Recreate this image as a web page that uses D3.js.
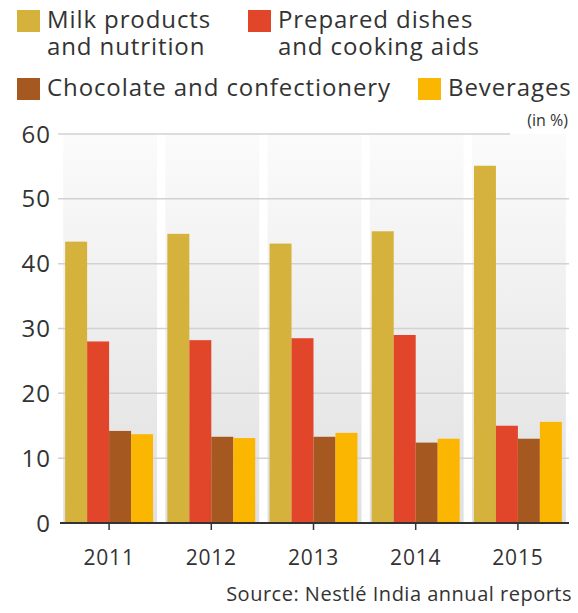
<!DOCTYPE html>
<html>
<head>
<meta charset="utf-8">
<script src="https://cdn.jsdelivr.net/npm/d3@7"></script>
<style>
  html, body { margin: 0; padding: 0; background: #fff; }
  svg { display: block; font-family: "Open Sans", sans-serif; }
</style>
</head>
<body>
<svg id="chart" width="578" height="613"></svg>
<script>
// data (share of sales, in %)
const years = ['2011', '2012', '2013', '2014', '2015'];
const seriesNames = ['Milk products and nutrition', 'Prepared dishes and cooking aids',
    'Chocolate and confectionery', 'Beverages'];
const milk = [43.4, 44.6, 43.1, 45.0, 55.1];
const prepared = [28.0, 28.2, 28.5, 29.0, 15.0];
const chocolate = [14.2, 13.3, 13.3, 12.4, 13.0];
const beverages = [13.7, 13.1, 13.9, 13.0, 15.6];
const yTicks = [0, 10, 20, 30, 40, 50, 60];

const colors = ['#d5b23b', '#e2462a', '#a5581f', '#fab600'];
const values = [milk, prepared, chocolate, beverages];

const svg = d3.select('#chart');

// background gradient for the year bands
const grad = svg.append('defs').append('linearGradient')
    .attr('id', 'bandGrad').attr('x1', 0).attr('y1', 0).attr('x2', 0).attr('y2', 1);
grad.append('stop').attr('offset', '0%').attr('stop-color', '#fbfbfb');
grad.append('stop').attr('offset', '100%').attr('stop-color', '#e0e0e0');

const x = d3.scaleBand().domain(years).range([58, 569]).paddingInner(0.14).paddingOuter(0.07);
const xInner = d3.scaleBand().domain(seriesNames).range([0, x.bandwidth()]);
const y = d3.scaleLinear().domain([0, 60]).range([523, 134]);

// year bands
svg.append('g').selectAll('rect')
    .data(years)
    .enter()
    .append('rect')
    .attr('x', d => x(d) - 2)
    .attr('y', y(60))
    .attr('width', x.bandwidth() + 6)
    .attr('height', y(0) - y(60))
    .attr('fill', 'url(#bandGrad)');

// gridlines
svg.append('g').selectAll('line')
    .data(yTicks.filter(t => t > 0))
    .enter()
    .append('line')
    .attr('x1', 58)
    .attr('x2', d => d === 60 ? 510 : 569)
    .attr('y1', d => y(d))
    .attr('y2', d => y(d))
    .attr('stroke', '#d2d2d2')
    .attr('stroke-width', 1.5);

// y labels
svg.append('g').selectAll('text')
    .data(yTicks)
    .enter()
    .append('text')
    .attr('x', 51)
    .attr('y', d => y(d))
    .attr('dy', '0.36em')
    .attr('text-anchor', 'end')
    .attr('font-size', '24px')
    .attr('letter-spacing', '1px')
    .attr('fill', '#333')
    .text(d => d);

// bars
const groups = svg.append('g').selectAll('g')
    .data(years)
    .enter()
    .append('g')
    .attr('transform', d => `translate(${x(d)},0)`);

groups.selectAll('rect')
    .data((d, i) => seriesNames.map((s, j) => ({ s, v: values[j][i], c: colors[j] })))
    .enter()
    .append('rect')
    .attr('x', d => xInner(d.s))
    .attr('y', d => y(d.v))
    .attr('width', xInner.bandwidth())
    .attr('height', d => y(0) - y(d.v))
    .attr('fill', d => d.c);

// x axis
const xAxis = svg.append('g')
    .attr('transform', `translate(0,${y(0)})`)
    .call(d3.axisBottom(x).tickSize(7).tickSizeOuter(0).tickPadding(20));
xAxis.select('.domain').attr('d', 'M60,0H569').attr('stroke', '#333').attr('stroke-width', 2);
xAxis.selectAll('.tick line').attr('stroke', '#333').attr('stroke-width', 1.5);
xAxis.selectAll('.tick text')
    .attr('font-family', '"Open Sans", sans-serif')
    .attr('font-size', '21px')
    .attr('letter-spacing', '0.8px')
    .attr('fill', '#333');

// legend
const legendItems = [
    { lines: ['Milk products', 'and nutrition'], x: 17, y: 10, c: colors[0] },
    { lines: ['Prepared dishes', 'and cooking aids'], x: 248, y: 10, c: colors[1] },
    { lines: ['Chocolate and confectionery'], x: 17, y: 78, c: colors[2] },
    { lines: ['Beverages'], x: 418, y: 78, c: colors[3] }
];
const legend = svg.append('g').selectAll('g')
    .data(legendItems)
    .enter()
    .append('g')
    .attr('transform', d => `translate(${d.x},${d.y})`);
legend.append('rect')
    .attr('width', 23)
    .attr('height', 22)
    .attr('fill', d => d.c);
legend.each(function(d) {
    d3.select(this).selectAll('text')
        .data(d.lines)
        .enter()
        .append('text')
        .attr('x', 30)
        .attr('y', (t, i) => 18 + i * 27)
        .attr('font-size', '24px')
        .attr('letter-spacing', '0.9px')
        .attr('fill', '#333')
        .text(t => t);
});

svg.append('text')
    .attr('x', 568)
    .attr('y', 126)
    .attr('text-anchor', 'end')
    .attr('font-size', '16px')
    .attr('fill', '#333')
    .text('(in %)');

svg.append('text')
    .attr('x', 572)
    .attr('y', 601)
    .attr('text-anchor', 'end')
    .attr('font-size', '20px')
    .attr('letter-spacing', '0.5px')
    .attr('fill', '#333')
    .text('Source: Nestlé India annual reports');
</script>
</body>
</html>
